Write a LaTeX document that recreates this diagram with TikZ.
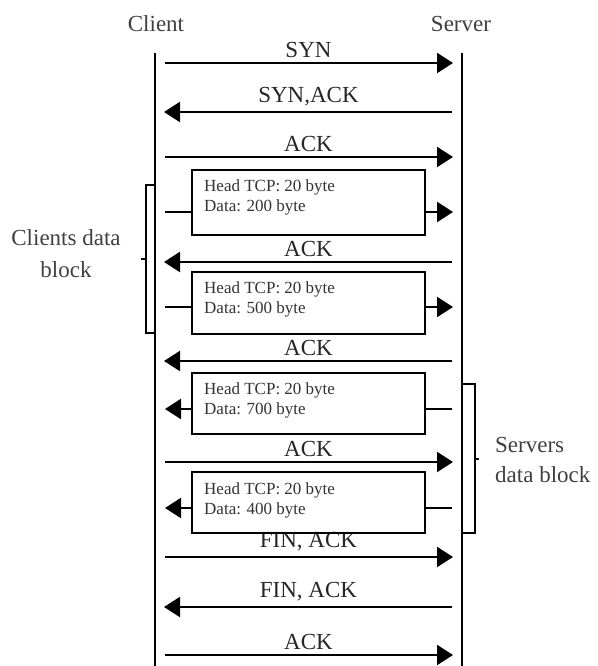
\documentclass[tikz,border=0pt]{standalone}
\usepackage{fontspec}
\setmainfont{Liberation Serif}
\usepackage{tikz}
\usetikzlibrary{arrows.meta,positioning,calc}

\begin{document}
\begin{tikzpicture}[x=1pt, y=-1pt,
  lifeline/.style={line width=2.8pt},
  msg/.style={line width=2.2pt, -{Triangle[length=16pt,width=20pt]}, shorten <=10pt, shorten >=9pt},
  stub/.style={line width=2.2pt},
  msglabel/.style={font=\fontsize{23}{27}\selectfont, text=black!85, inner sep=0pt, above=4.5pt},
  packet/.style={rectangle, draw, line width=2pt, minimum width=233pt, inner sep=0pt},
  packettext/.style={font=\fontsize{17}{20}\selectfont, text=black!80, align=left, inner sep=0pt, anchor=north west},
  actor/.style={font=\fontsize{23}{27}\selectfont, text=black!75, anchor=base},
  bracket/.style={line width=2pt}]
\useasboundingbox (0,0) rectangle (597,666);

% actors and lifelines
\node[actor] (client) at (156,32) {Client};
\node[actor] (server) at (461,32) {Server};
\coordinate (ctop) at (155,53);
\coordinate (cbot) at (155,666);
\coordinate (stop) at (462,53);
\coordinate (sbot) at (462,666);
\draw[lifeline] (ctop) -- (cbot);
\draw[lifeline] (stop) -- (sbot);

% message rows
\foreach \n/\y in {syn/63, synack/112, ack1/157, ack2/262, ack3/361, ack4/462, fin1/557, fin2/607, ack5/655} {
  \coordinate (c\n) at (155,\y);
  \coordinate (s\n) at (462,\y);
}

\draw[msg] (csyn) -- node[msglabel] {SYN} (ssyn);
\draw[msg] (ssynack) -- node[msglabel] {SYN,ACK} (csynack);
\draw[msg] (cack1) -- node[msglabel] {ACK} (sack1);
\draw[msg] (sack2) -- node[msglabel] {ACK} (cack2);
\draw[msg] (sack3) -- node[msglabel] {ACK} (cack3);
\draw[msg] (cack4) -- node[msglabel] {ACK} (sack4);
\draw[msg] (cfin1) -- node[msglabel] {FIN, ACK} (sfin1);
\draw[msg] (sfin2) -- node[msglabel] {FIN, ACK} (cfin2);
\draw[msg] (cack5) -- node[msglabel] {ACK} (sack5);

% data packets
\foreach \n/\y/\h/\s/\d in {p1/202.5/65/212/200, p2/303/62/307/500, p3/403.5/61/409/700, p4/502.5/61/508/400} {
  \node[packet, minimum height=\h pt] (\n) at (308.5,\y) {};
  \node[packettext] (\n text) at ($(\n.north west)+(13,11)$) {Head TCP: 20 byte\\Data: \d\ byte};
  \coordinate (c\n) at (155,\s);
  \coordinate (s\n) at (462,\s);
}

\draw[stub, shorten <=10pt] (cp1) -- (cp1 -| p1.west);
\draw[msg, shorten <=0pt] (cp1 -| p1.east) -- (sp1);
\draw[stub, shorten <=10pt] (cp2) -- (cp2 -| p2.west);
\draw[msg, shorten <=0pt] (cp2 -| p2.east) -- (sp2);
\draw[stub, shorten <=10pt] (sp3) -- (sp3 -| p3.east);
\draw[msg, shorten <=0pt, shorten >=10pt] (sp3 -| p3.west) -- (cp3);
\draw[stub, shorten <=10pt] (sp4) -- (sp4 -| p4.east);
\draw[msg, shorten <=0pt, shorten >=10pt] (sp4 -| p4.west) -- (cp4);

% data block brackets
\draw[bracket] (155,185) -- (146,185) -- (146,333) -- (155,333);
\draw[bracket] (146,259) -- (141,259);
\node[font=\fontsize{23}{32}\selectfont, text=black!75, align=center] (clientblock) at (66,254) {Clients data\\block};

\draw[bracket] (463,384) -- (475,384) -- (475,533) -- (463,533);
\draw[bracket] (475,459) -- (479,459);
\node[font=\fontsize{23}{30}\selectfont, text=black!75, align=left, anchor=west, inner sep=0pt] (serverblock) at (495,460) {Servers\\data block};
\end{tikzpicture}
\end{document}
